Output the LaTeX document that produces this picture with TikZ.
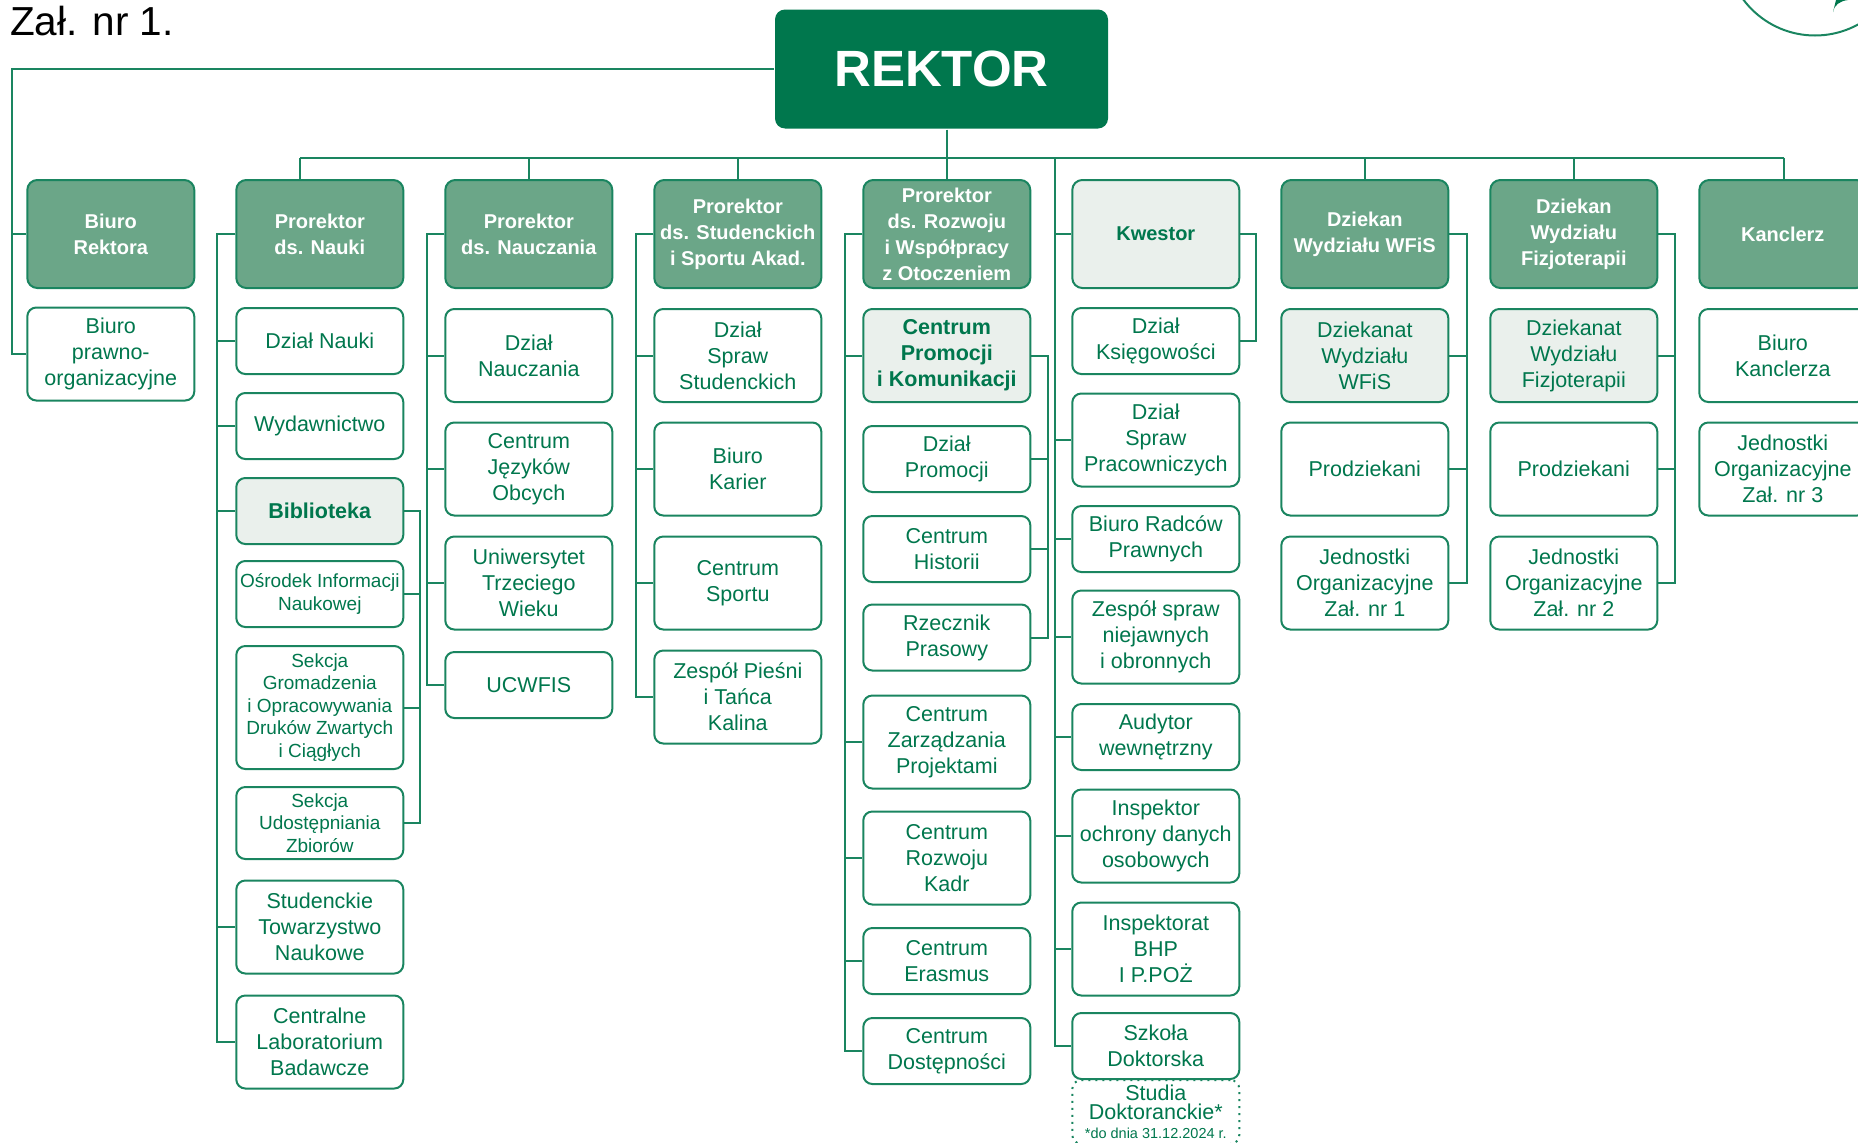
\documentclass[tikz,border=0pt]{standalone}
\usepackage{fontspec}
\setmainfont{Liberation Sans}
\usepackage{xcolor}
\definecolor{ciemna}{HTML}{00774D}
\definecolor{srednia}{HTML}{6BA688}
\definecolor{jasna}{HTML}{EAF0EC}
\definecolor{kreska}{HTML}{1A8560}
\tikzset{
  rektorbox/.style={
    rectangle,
    rounded corners=10pt,
    minimum width=333pt,
    minimum height=119pt,
    align=center,
    fill=ciemna,
    text=white,
    font=\fontsize{51}{60}\selectfont\bfseries
    },
  headbox/.style={
    rectangle,
    rounded corners=10pt,
    minimum width=167pt,
    minimum height=108pt,
    inner sep=0pt,
    align=center,
    draw=kreska,
    fill=srednia,
    text=white,
    font=\fontsize{20}{26}\selectfont\bfseries
    },
  unit/.style={
    rectangle,
    rounded corners=9pt,
    minimum width=167pt,
    minimum height=93pt,
    inner sep=0pt,
    align=center,
    draw=kreska,
    fill=white,
    text=ciemna,
    font=\fontsize{21.5}{26}\selectfont
    },
  lowunit/.style={unit, minimum height=66pt},
  lightunit/.style={unit, fill=jasna},
  lightlow/.style={lowunit, fill=jasna},
  lighthead/.style={headbox, fill=jasna, text=ciemna},
  tiny/.style={font=\fontsize{19}{22.5}\selectfont},
  line/.style={draw=kreska},
}

\begin{document}
\begin{tikzpicture}[
            x = 1pt,
            y = 1pt,
            node distance = 209pt, % distance between columns
            line width = 2pt
        ]
         \clip (0,0) rectangle (1858,-1143);

         % title and logo
         \node[anchor=west,inner sep=0pt,font=\fontsize{40.5}{48}\selectfont] (zal) at (9,-21) {Zał. nr 1.};
         \draw[line] (1815,54) circle (89.5);
         \fill[ciemna] (1833,-12) .. controls (1834,-5) and (1840,-1) .. (1848,0) -- (1836,0) .. controls (1835,-4) and (1834,-8) .. (1833,-12) -- cycle;

         \node[rektorbox] (rektor) at (941.5,-69) {REKTOR};

         % heads, left to right
         \node[headbox] (brektora) at (110.8,-234) {Biuro\\Rektora};
         \node[headbox] (prnauki) [right of=brektora] {Prorektor\\ds. Nauki};
         \node[headbox] (prnauczania) [right of=prnauki] {Prorektor\\ds. Nauczania};
         \node[headbox] (prstudenci) [right of=prnauczania] {Prorektor\\ds. Studenckich\\i Sportu Akad.};
         \node[headbox] (prrozwoj) [right of=prstudenci] {Prorektor\\ds. Rozwoju\\i Współpracy\\z Otoczeniem};
         \node[lighthead] (kwestor) [right of=prrozwoj] {Kwestor};
         \node[headbox] (dzwfis) [right of=kwestor] {Dziekan\\Wydziału WFiS};
         \node[headbox] (dzfizjo) [right of=dzwfis] {Dziekan\\Wydziału\\Fizjoterapii};
         \node[headbox] (kanclerz) [right of=dzfizjo] {Kanclerz};

         % column of Biuro Rektora
         \node[unit] (prawno) [node distance=120pt, below of=brektora] {Biuro\\prawno-\\organizacyjne};

         % column of Prorektor ds. Nauki
         \node[lowunit] (dznauki) [node distance=107pt, below of=prnauki] {Dział Nauki};
         \node[lowunit] (wyd) [node distance=85pt, below of=dznauki] {Wydawnictwo};
         \node[lightlow] (bibl) [node distance=85pt, below of=wyd] {\textbf{Biblioteka}};
         \node[lowunit,tiny] (osrodek) [node distance=83pt, below of=bibl] {Ośrodek Informacji\\Naukowej};
         \node[unit,tiny,minimum height=123pt] (gromadz) [node distance=113.5pt, below of=osrodek] {Sekcja\\Gromadzenia\\i Opracowywania\\Druków Zwartych\\i Ciągłych};
         \node[unit,tiny,minimum height=72pt] (udost) [node distance=115.5pt, below of=gromadz] {Sekcja\\Udostępniania\\Zbiorów};
         \node[unit] (stn) [node distance=104pt, below of=udost] {Studenckie\\Towarzystwo\\Naukowe};
         \node[unit] (clb) [node distance=115pt, below of=stn] {Centralne\\Laboratorium\\Badawcze};

         % column of Prorektor ds. Nauczania
         \node[unit] (dznaucz) [node distance=121.5pt, below of=prnauczania] {Dział\\Nauczania};
         \node[unit] (cjo) [node distance=113.5pt, below of=dznaucz] {Centrum\\Języków\\Obcych};
         \node[unit] (utw) [node distance=114pt, below of=cjo] {Uniwersytet\\Trzeciego\\Wieku};
         \node[lowunit] (ucwfis) [node distance=102pt, below of=utw] {UCWFIS};

         % column of Prorektor ds. Studenckich
         \node[unit] (dzstud) [node distance=121.5pt, below of=prstudenci] {Dział\\Spraw\\Studenckich};
         \node[unit] (kariery) [node distance=113.5pt, below of=dzstud] {Biuro\\Karier};
         \node[unit] (sport) [node distance=114pt, below of=kariery] {Centrum\\Sportu};
         \node[unit] (kalina) [node distance=114pt, below of=sport] {Zespół Pieśni\\i Tańca\\Kalina};

         % column of Prorektor ds. Rozwoju
         \node[lightunit] (cpik) [node distance=121.5pt, below of=prrozwoj] {\textbf{Centrum}\\\textbf{Promocji}\\\textbf{i Komunikacji}};
         \node[lowunit] (dzprom) [node distance=103.5pt, below of=cpik] {Dział\\Promocji};
         \node[lowunit] (chist) [node distance=90pt, below of=dzprom] {Centrum\\Historii};
         \node[lowunit] (rzecznik) [node distance=88.5pt, below of=chist] {Rzecznik\\Prasowy};
         \node[unit] (czp) [node distance=104.5pt, below of=rzecznik] {Centrum\\Zarządzania\\Projektami};
         \node[unit] (crk) [node distance=116pt, below of=czp] {Centrum\\Rozwoju\\Kadr};
         \node[lowunit] (erasmus) [node distance=103pt, below of=crk] {Centrum\\Erasmus};
         \node[lowunit] (dostep) [node distance=90pt, below of=erasmus] {Centrum\\Dostępności};

         % column of Kwestor
         \node[lowunit] (ksieg) [node distance=107pt, below of=kwestor] {Dział\\Księgowości};
         \node[unit] (dzprac) [node distance=99pt, below of=ksieg] {Dział\\Spraw\\Pracowniczych};
         \node[lowunit] (radcy) [node distance=99pt, below of=dzprac] {Biuro Radców\\Prawnych};
         \node[unit] (niejawne) [node distance=98pt, below of=radcy] {Zespół spraw\\niejawnych\\i obronnych};
         \node[lowunit] (audytor) [node distance=100pt, below of=niejawne] {Audytor\\wewnętrzny};
         \node[unit] (iod) [node distance=99pt, below of=audytor] {Inspektor\\ochrony danych\\osobowych};
         \node[unit] (bhp) [node distance=113pt, below of=iod] {Inspektorat\\BHP\\I P.POŻ};
         \node[lowunit] (szkola) [node distance=97pt, below of=bhp] {Szkoła\\Doktorska};
         \node[unit,dash pattern=on 2pt off 5pt,fill=none,minimum height=64pt,font=\fontsize{21.5}{19}\selectfont] (studia) [node distance=66pt, below of=szkola] {Studia\\Doktoranckie*\\{\fontsize{14.5}{19}\selectfont *do dnia 31.12.2024 r.}};

         % columns of the deans
         \node[lightunit] (dkwfis) [node distance=121.5pt, below of=dzwfis] {Dziekanat\\Wydziału\\WFiS};
         \node[unit] (prowfis) [node distance=113.5pt, below of=dkwfis] {Prodziekani};
         \node[unit] (jo1) [node distance=114pt, below of=prowfis] {Jednostki\\Organizacyjne\\Zał. nr 1};
         \node[lightunit] (dkfizjo) [node distance=121.5pt, below of=dzfizjo] {Dziekanat\\Wydziału\\Fizjoterapii};
         \node[unit] (profizjo) [node distance=113.5pt, below of=dkfizjo] {Prodziekani};
         \node[unit] (jo2) [node distance=114pt, below of=profizjo] {Jednostki\\Organizacyjne\\Zał. nr 2};

         % column of Kanclerz
         \node[unit] (bkancl) [node distance=121.5pt, below of=kanclerz] {Biuro\\Kanclerza};
         \node[unit] (jo3) [node distance=113.5pt, below of=bkancl] {Jednostki\\Organizacyjne\\Zał. nr 3};

         % bus under the rector
         \coordinate (busl) at (300,-157.6);
         \coordinate (busr) at (1784,-157.6);
         \coordinate (busk) at (1055,-157.6);
         \coordinate (lewa) at (11.5,-200);
         \draw[line] (busl) -- (busr);
         \draw[line] (prrozwoj.north |- rektor.south) -- (prrozwoj.north);
         \draw[line] (busl) -- (busl |- prnauki.north);
         \draw[line] (prnauczania.north |- busl) -- (prnauczania.north);
         \draw[line] (prstudenci.north |- busl) -- (prstudenci.north);
         \draw[line] (dzwfis.north |- busl) -- (dzwfis.north);
         \draw[line] (dzfizjo.north |- busl) -- (dzfizjo.north);
         \draw[line] (busr) -- (busr |- kanclerz.north);

         % line on the far left
         \draw[line] (rektor.west) -| (lewa) |- (prawno.west);
         \draw[line] (lewa) |- (brektora.west);

         % Prorektor ds. Nauki
         \draw[line] (prnauki.west) -- ++(-18,0) |- (clb.west);
         \draw[line] (prnauki.west) -- ++(-18,0) |- (dznauki.west);
         \draw[line] (prnauki.west) -- ++(-18,0) |- (wyd.west);
         \draw[line] (prnauki.west) -- ++(-18,0) |- (bibl.west);
         \draw[line] (prnauki.west) -- ++(-18,0) |- (stn.west);
         \draw[line] (bibl.east) -- ++(16,0) |- (udost.east);
         \draw[line] (bibl.east) -- ++(16,0) |- (osrodek.east);
         \draw[line] (bibl.east) -- ++(16,0) |- (gromadz.east);

         % Prorektor ds. Nauczania
         \draw[line] (prnauczania.west) -- ++(-17,0) |- (ucwfis.west);
         \draw[line] (prnauczania.west) -- ++(-17,0) |- (dznaucz.west);
         \draw[line] (prnauczania.west) -- ++(-17,0) |- (cjo.west);
         \draw[line] (prnauczania.west) -- ++(-17,0) |- (utw.west);

         % Prorektor ds. Studenckich
         \draw[line] (prstudenci.west) -- ++(-17,0) |- (kalina.west);
         \draw[line] (prstudenci.west) -- ++(-17,0) |- (dzstud.west);
         \draw[line] (prstudenci.west) -- ++(-17,0) |- (kariery.west);
         \draw[line] (prstudenci.west) -- ++(-17,0) |- (sport.west);

         % Prorektor ds. Rozwoju
         \draw[line] (prrozwoj.west) -- ++(-17,0) |- (dostep.west);
         \draw[line] (prrozwoj.west) -- ++(-17,0) |- (cpik.west);
         \draw[line] (prrozwoj.west) -- ++(-17,0) |- (czp.west);
         \draw[line] (prrozwoj.west) -- ++(-17,0) |- (crk.west);
         \draw[line] (prrozwoj.west) -- ++(-17,0) |- (erasmus.west);
         \draw[line] (cpik.east) -- ++(17,0) |- (rzecznik.east);
         \draw[line] (cpik.east) -- ++(17,0) |- (dzprom.east);
         \draw[line] (cpik.east) -- ++(17,0) |- (chist.east);

         % Kwestor
         \draw[line] (busk) |- (szkola.west);
         \draw[line] (busk) |- (kwestor.west);
         \draw[line] (busk) |- (dzprac.west);
         \draw[line] (busk) |- (radcy.west);
         \draw[line] (busk) |- (niejawne.west);
         \draw[line] (busk) |- (audytor.west);
         \draw[line] (busk) |- (iod.west);
         \draw[line] (busk) |- (bhp.west);
         \draw[line] (kwestor.east) -- ++(16,0) |- (ksieg.east);

         % deans
         \draw[line] (dzwfis.east) -- ++(17.5,0) |- (jo1.east);
         \draw[line] (dzwfis.east) -- ++(17.5,0) |- (dkwfis.east);
         \draw[line] (dzwfis.east) -- ++(17.5,0) |- (prowfis.east);
         \draw[line] (dzfizjo.east) -- ++(17,0) |- (jo2.east);
         \draw[line] (dzfizjo.east) -- ++(17,0) |- (dkfizjo.east);
         \draw[line] (dzfizjo.east) -- ++(17,0) |- (profizjo.east);
\end{tikzpicture}
\end{document}
